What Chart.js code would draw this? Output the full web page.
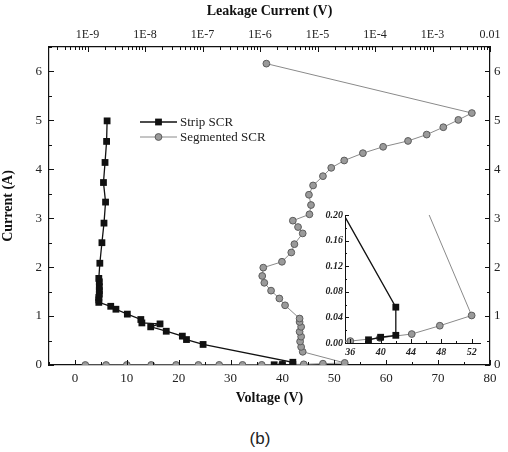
<!DOCTYPE html>
<html lang="en">
<head>
  <meta charset="UTF-8">
  <title>Strip vs Segmented SCR</title>
  <script src="https://cdn.jsdelivr.net/npm/chart.js"></script>
  <style>
    body {
      margin: 0;
      background: #fff;
    }
    .wrap {
      position: relative;
      width: 508px;
      height: 452px;
    }
    #mainChart {
      position: absolute;
      left: 0;
      top: 0;
    }
    #insetChart {
      position: absolute;
      left: 300px;
      top: 200px;
    }
    .caption {
      position: absolute;
      left: 0;
      width: 520px;
      top: 429px;
      text-align: center;
      font-family: "Liberation Sans", sans-serif;
      font-size: 17px;
      line-height: 20px;
      color: #222;
    }
  </style>
</head>
<body>
  <div class="wrap">
    <canvas id="mainChart" width="508" height="410"></canvas>
    <canvas id="insetChart" width="190" height="160"></canvas>
    <div class="caption">(b)</div>
  </div>

  <script>
    // values
    const stripVoltage = [38.4, 40.0, 42.0, 42.0, 24.7, 21.5, 20.7, 17.6, 14.6, 16.4, 12.9, 12.7, 10.1, 7.9, 6.9,
      4.6, 4.6, 4.6, 4.7, 4.7, 4.7, 4.7, 4.6, 4.8, 5.2, 5.6, 5.9, 5.5, 5.8, 6.1, 6.2];
    const stripCurrent = [0.005, 0.009, 0.012, 0.056, 0.42, 0.52, 0.59, 0.69, 0.78, 0.84, 0.86, 0.93, 1.04, 1.14, 1.20,
      1.28, 1.33, 1.38, 1.45, 1.52, 1.60, 1.70, 1.77, 2.08, 2.50, 2.90, 3.33, 3.73, 4.14, 4.57, 4.99];

    const segVoltage = [2, 6, 10, 14.7, 19.5, 23.8, 27.8, 32.3, 36, 39.9, 44.1, 47.8, 52,
      43.9, 43.6, 43.4, 43.6, 43.3, 43.6, 43.3, 43.3, 40.5, 39.4, 37.8, 36.5, 36.1, 36.3,
      39.9, 41.7, 42.3, 43.9, 43.0, 42.0, 45.2, 45.5, 45.1, 45.9, 47.8, 49.4, 51.9,
      55.5, 59.4, 64.2, 67.8, 71.0, 73.9, 76.5, 36.9];
    const segCurrent = [0, 0, 0.001, 0.001, 0.001, 0.001, 0.002, 0.002, 0.003, 0.008, 0.014, 0.027, 0.043,
      0.27, 0.37, 0.48, 0.58, 0.68, 0.78, 0.88, 0.95, 1.22, 1.36, 1.52, 1.68, 1.82, 1.99,
      2.11, 2.30, 2.47, 2.69, 2.82, 2.95, 3.08, 3.27, 3.48, 3.67, 3.86, 4.03, 4.18,
      4.33, 4.46, 4.58, 4.71, 4.86, 5.01, 5.15, 6.16];

    const seriesNames = ['Strip SCR', 'Segmented SCR'];

    const topTickValues = [1e-9, 1e-8, 1e-7, 1e-6, 1e-5, 1e-4, 1e-3, 1e-2];
    const topTickLabels = ['1E-9', '1E-8', '1E-7', '1E-6', '1E-5', '1E-4', '1E-3', '0.01'];

    const serif = "'Liberation Serif', 'Times New Roman', serif";

    function points(xs, ys) {
      return xs.map((x, i) => ({ x: x, y: ys[i] }));
    }

    function makeDatasets() {
      return [{
        label: seriesNames[0],
        data: points(stripVoltage, stripCurrent),
        borderColor: '#111',
        borderWidth: 1.3,
        backgroundColor: '#111',
        pointStyle: 'rect',
        pointRadius: 4.8,
        pointBorderWidth: 0,
        tension: 0
      }, {
        label: seriesNames[1],
        data: points(segVoltage, segCurrent),
        borderColor: '#8a8a8a',
        borderWidth: 1,
        backgroundColor: '#9a9a9a',
        pointBorderColor: '#5c5c5c',
        pointStyle: 'circle',
        pointRadius: 3.4,
        pointBorderWidth: 1,
        tension: 0
      }];
    }

    // tick marks drawn inward from the plot frame
    const innerTicks = {
      id: 'innerTicks',
      afterDraw(chart, args, opts) {
        const ctx = chart.ctx;
        const a = chart.chartArea;
        ctx.save();
        ctx.strokeStyle = opts.color;
        ctx.lineWidth = opts.width;
        Object.values(chart.scales).forEach(scale => {
          scale.ticks.forEach(t => {
            const len = (t.label !== '' && t.label != null) ? opts.major : opts.minor;
            const p = Math.round(scale.getPixelForValue(t.value)) + 0.5;
            ctx.beginPath();
            if (scale.position === 'left') {
              ctx.moveTo(a.left, p); ctx.lineTo(a.left + len, p);
            } else if (scale.position === 'right') {
              ctx.moveTo(a.right, p); ctx.lineTo(a.right - len, p);
            } else if (scale.position === 'top') {
              ctx.moveTo(p, a.top); ctx.lineTo(p, a.top + len);
            } else {
              ctx.moveTo(p, a.bottom); ctx.lineTo(p, a.bottom - len);
            }
            ctx.stroke();
          });
        });
        ctx.restore();
      }
    };

    const insideLegend = {
      id: 'insideLegend',
      afterDatasetsDraw(chart, args, opts) {
        if (!opts.show) return;
        const ctx = chart.ctx;
        chart.data.datasets.forEach((ds, i) => {
          const y = opts.y + i * opts.gap;
          const mx = opts.x + opts.lineLen / 2;
          ctx.save();
          ctx.strokeStyle = ds.borderColor;
          ctx.lineWidth = ds.borderWidth;
          ctx.beginPath();
          ctx.moveTo(opts.x, y);
          ctx.lineTo(opts.x + opts.lineLen, y);
          ctx.stroke();
          ctx.fillStyle = ds.backgroundColor;
          if (ds.pointStyle === 'rect') {
            const s = ds.pointRadius * Math.SQRT1_2;
            ctx.fillRect(mx - s, y - s, 2 * s, 2 * s);
          } else {
            ctx.beginPath();
            ctx.arc(mx, y, ds.pointRadius, 0, Math.PI * 2);
            ctx.fill();
            ctx.strokeStyle = ds.pointBorderColor;
            ctx.lineWidth = ds.pointBorderWidth;
            ctx.stroke();
          }
          ctx.fillStyle = '#222';
          ctx.font = opts.font;
          ctx.textBaseline = 'middle';
          ctx.fillText(ds.label, opts.x + opts.lineLen + 3, y + 1);
          ctx.restore();
        });
      }
    };

    const tickFont = { family: serif, size: 13 };
    const titleFont = { family: serif, size: 14, weight: 'bold' };
    const frame = { display: true, color: '#111', width: 1.2 };

    new Chart(document.getElementById('mainChart'), {
      type: 'line',
      data: { datasets: makeDatasets() },
      plugins: [innerTicks, insideLegend],
      options: {
        responsive: false,
        animation: false,
        layout: { padding: 0 },
        plugins: {
          legend: { display: false },
          tooltip: { enabled: false },
          innerTicks: { color: '#111', width: 1, major: 5, minor: 3 },
          insideLegend: { show: true, x: 140, y: 122, gap: 15, lineLen: 37, font: "13px 'Liberation Serif', serif" }
        },
        scales: {
          x: {
            type: 'linear',
            position: 'bottom',
            min: -5,
            max: 80,
            grid: { display: false, drawTicks: false },
            border: frame,
            ticks: {
              stepSize: 5,
              autoSkip: false,
              maxRotation: 0,
              includeBounds: false,
              padding: 6,
              color: '#222',
              font: tickFont,
              callback: v => (v % 10 === 0 ? String(v) : '')
            },
            title: { display: true, text: 'Voltage (V)', color: '#111', font: titleFont, padding: { top: 0, bottom: 3 } },
            afterFit: s => { s.height = 45; }
          },
          xTop: {
            type: 'logarithmic',
            position: 'top',
            min: Math.pow(10, -9.67),
            max: 1e-2,
            grid: { display: false, drawTicks: false },
            border: frame,
            afterBuildTicks: s => {
              const vals = [];
              for (let k = -10; k <= -3; k++) {
                for (let m = 1; m <= 9; m++) {
                  const v = m * Math.pow(10, k);
                  if (v >= s.min * 0.999 && v <= s.max * 1.001) vals.push({ value: v });
                }
              }
              vals.push({ value: s.max });
              s.ticks = vals;
            },
            ticks: {
              autoSkip: false,
              maxRotation: 0,
              padding: 5,
              color: '#222',
              font: { family: serif, size: 12 },
              callback: v => {
                const i = topTickValues.findIndex(t => Math.abs(Math.log10(t) - Math.log10(v)) < 1e-6);
                return i >= 0 ? topTickLabels[i] : '';
              }
            },
            title: { display: true, text: 'Leakage Current (V)', color: '#111', font: titleFont, padding: { top: 3, bottom: 0 } },
            afterFit: s => { s.height = 47; }
          },
          y: {
            type: 'linear',
            position: 'left',
            min: 0,
            max: 6.5,
            grid: { display: false, drawTicks: false },
            border: frame,
            ticks: {
              stepSize: 0.5,
              autoSkip: false,
              includeBounds: false,
              padding: 7,
              color: '#222',
              font: tickFont,
              callback: v => (Number.isInteger(v) ? String(v) : '')
            },
            title: { display: true, text: 'Current (A)', color: '#111', font: titleFont, padding: { top: 0, bottom: 0 } },
            afterFit: s => { s.width = 49; }
          },
          yRight: {
            type: 'linear',
            position: 'right',
            min: 0,
            max: 6.5,
            grid: { display: false, drawTicks: false },
            border: frame,
            ticks: {
              stepSize: 0.5,
              autoSkip: false,
              includeBounds: false,
              padding: 4,
              color: '#222',
              font: tickFont,
              callback: v => (Number.isInteger(v) ? String(v) : '')
            },
            afterFit: s => { s.width = 18; }
          }
        }
      }
    });

    // inset: zoom of the low-current region
    const insetFont = { family: serif, size: 10, weight: 'bold', style: 'italic' };
    const insetAxis = { display: true, color: '#111', width: 1 };

    new Chart(document.getElementById('insetChart'), {
      type: 'line',
      data: { datasets: makeDatasets() },
      plugins: [innerTicks],
      options: {
        responsive: false,
        animation: false,
        layout: { padding: { top: 15, right: 10, left: 0, bottom: 0 } },
        plugins: {
          legend: { display: false },
          tooltip: { enabled: false },
          innerTicks: { color: '#111', width: 1, major: 4, minor: 2 }
        },
        scales: {
          x: {
            type: 'linear',
            position: 'bottom',
            min: 35.3,
            max: 53.1,
            grid: { display: false, drawTicks: false },
            border: insetAxis,
            ticks: {
              stepSize: 2,
              autoSkip: false,
              maxRotation: 0,
              includeBounds: false,
              padding: 3,
              color: '#222',
              font: insetFont,
              callback: v => (Math.round(v) % 4 === 0 ? String(Math.round(v)) : '')
            },
            afterFit: s => { s.height = 17; }
          },
          y: {
            type: 'linear',
            position: 'left',
            min: 0,
            max: 0.2,
            grid: { display: false, drawTicks: false },
            border: insetAxis,
            ticks: {
              stepSize: 0.02,
              autoSkip: false,
              includeBounds: false,
              padding: 2,
              color: '#222',
              font: insetFont,
              callback: v => (Math.round(v * 100) % 4 === 0 ? v.toFixed(2) : '')
            },
            afterFit: s => { s.width = 45; }
          }
        }
      }
    });
  </script>
</body>
</html>
